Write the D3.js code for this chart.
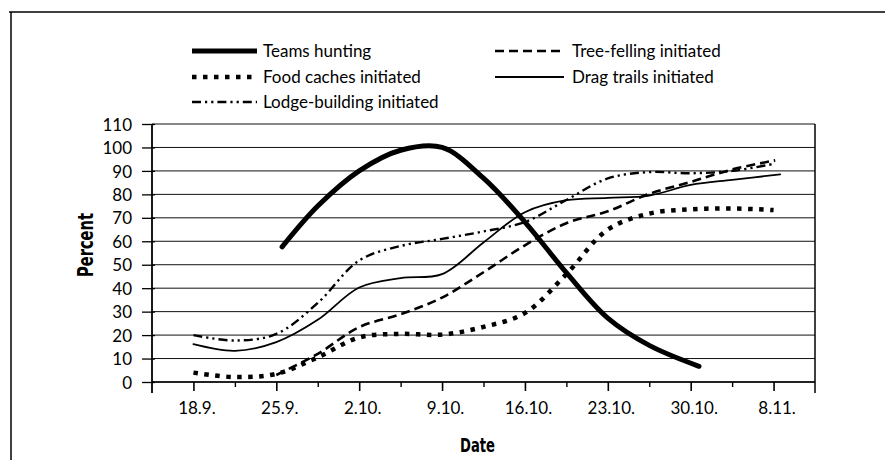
<!DOCTYPE html>
<html>
<head>
<meta charset="utf-8">
<script src="https://cdn.jsdelivr.net/npm/d3@7"></script>
<style>
  html, body { margin: 0; padding: 0; background: #fff; }
  svg { display: block; }
  .tick-label { font-family: Lato, "Open Sans", sans-serif; font-size: 17px; fill: #000; }
  .legend-label { font-family: Lato, "Open Sans", sans-serif; font-size: 17px; fill: #000; }
  .axis-title { font-family: "Liberation Sans Narrow", "DejaVu Sans Condensed", sans-serif; font-weight: bold; font-size: 22px; fill: #000; }
</style>
</head>
<body>
<svg id="chart" width="885" height="460"></svg>
<script>
// ---------- DATA ----------
const dateLabels = ["18.9.", "25.9.", "2.10.", "9.10.", "16.10.", "23.10.", "30.10.", "8.11."];
const yTicks = [0, 10, 20, 30, 40, 50, 60, 70, 80, 90, 100, 110];

// x positions in weeks after 18.9. (0 = 18.9., 1 = 25.9., ...)
const huntWeeks = [1.07, 1.5, 2, 2.5, 3, 3.5, 4, 4.5, 5, 5.5, 6.1];
const huntValues = [57.6, 75, 90, 98.8, 100, 86.9, 68.2, 46.6, 27.2, 15.6, 6.7];

const foodWeeks = [0, 0.5, 1, 1.5, 2, 2.5, 3, 3.5, 4, 4.5, 5, 5.5, 6, 6.5, 7];
const foodValues = [4, 2.1, 3.5, 10.5, 19, 20.5, 20.2, 23.5, 29.4, 46, 65, 71.8, 73.6, 74, 73.3];

const lodgeWeeks = [0, 0.5, 1, 1.5, 2, 2.5, 3, 3.5, 4, 4.5, 5, 5.5, 6, 6.5, 7];
const lodgeValues = [20, 17.7, 20.5, 33.7, 51.8, 58, 61, 64.2, 68.2, 77.6, 86.8, 89.5, 89, 90, 93];

const treeWeeks = [1, 1.5, 2, 2.5, 3, 3.5, 4, 4.5, 5, 5.5, 6, 6.5, 7.02];
const treeValues = [3, 12, 23.4, 28.9, 36, 46.8, 58.3, 67.7, 72.8, 80.2, 85.3, 90.6, 94.5];

const dragWeeks = [0, 0.5, 1, 1.5, 2, 2.5, 3, 3.5, 4, 4.5, 5, 5.5, 6, 6.5, 7.08];
const dragValues = [16.1, 13.3, 17, 26.5, 40.3, 44.3, 46, 59.5, 72.4, 77.5, 78.5, 79.5, 84, 86.2, 88.5];

const seriesNames = ["Teams hunting", "Food caches initiated", "Lodge-building initiated", "Tree-felling initiated", "Drag trails initiated"];

// ---------- STYLES ----------
const styles = {
  "Teams hunting": { width: 5, dash: null, cap: "round" },
  "Food caches initiated": { width: 4.5, dash: "4.5,6.5", cap: "butt" },
  "Lodge-building initiated": { width: 2.4, dash: "9,4,2.2,4,2.2,4", cap: "butt" },
  "Tree-felling initiated": { width: 2.6, dash: "9,5", cap: "butt" },
  "Drag trails initiated": { width: 1.8, dash: null, cap: "round" }
};

const series = [
  { name: seriesNames[0], xs: huntWeeks, ys: huntValues },
  { name: seriesNames[1], xs: foodWeeks, ys: foodValues },
  { name: seriesNames[2], xs: lodgeWeeks, ys: lodgeValues },
  { name: seriesNames[3], xs: treeWeeks, ys: treeValues },
  { name: seriesNames[4], xs: dragWeeks, ys: dragValues }
];

// ---------- LAYOUT ----------
const svg = d3.select("#chart");
const plot = { left: 152, right: 815, top: 124, bottom: 382 };

const x = d3.scaleLinear().domain([-0.5, 7.5]).range([plot.left, plot.right]);
const y = d3.scaleLinear().domain([0, 110]).range([plot.bottom, plot.top]);

// outer frame
svg.append("line").attr("x1", 9).attr("x2", 885).attr("y1", 12).attr("y2", 12)
  .attr("stroke", "#000").attr("stroke-width", 1.5);
svg.append("line").attr("x1", 11).attr("x2", 11).attr("y1", 12).attr("y2", 460)
  .attr("stroke", "#000").attr("stroke-width", 1.5);

// gridlines
svg.append("g").selectAll("line").data(yTicks).join("line")
  .attr("x1", plot.left).attr("x2", plot.right)
  .attr("y1", d => y(d)).attr("y2", d => y(d))
  .attr("stroke", "#111").attr("stroke-width", 1);

// right border of plot
svg.append("line").attr("x1", plot.right).attr("x2", plot.right)
  .attr("y1", y(110)).attr("y2", y(0) + 11)
  .attr("stroke", "#000").attr("stroke-width", 1.5);

// y axis
const yAxis = d3.axisLeft(y).tickValues(yTicks).tickSize(9).tickPadding(4);
const gy = svg.append("g").attr("transform", `translate(${plot.left},0)`).call(yAxis);
gy.select(".domain").remove();
gy.selectAll(".tick line").attr("stroke", "#000").attr("stroke-width", 1.3).attr("x2", -10).attr("x1", 3);
gy.selectAll(".tick text").attr("class", "tick-label").attr("x", -20).attr("dy", "0.36em");
svg.append("line").attr("x1", plot.left).attr("x2", plot.left)
  .attr("y1", y(110)).attr("y2", y(0) + 11).attr("stroke", "#000").attr("stroke-width", 1.8);

// x axis
const majorTicks = d3.range(0, 8);
const minorTicks = d3.range(0.5, 7, 1);
const xAxis = d3.axisBottom(x).tickValues(majorTicks).tickFormat(i => dateLabels[i]).tickSize(9).tickPadding(11);
const gx = svg.append("g").attr("transform", `translate(0,${plot.bottom})`).call(xAxis);
gx.select(".domain").remove();
gx.selectAll(".tick line").attr("stroke", "#000").attr("stroke-width", 1.6);
gx.selectAll(".tick text").attr("class", "tick-label").attr("dx", 3);
const xMinor = d3.axisBottom(x).tickValues(minorTicks).tickSize(5).tickFormat("");
const gxm = svg.append("g").attr("transform", `translate(0,${plot.bottom})`).call(xMinor);
gxm.select(".domain").remove();
gxm.selectAll(".tick line").attr("stroke", "#000").attr("stroke-width", 1.4);
svg.append("line").attr("x1", plot.left).attr("x2", plot.right)
  .attr("y1", y(0)).attr("y2", y(0)).attr("stroke", "#000").attr("stroke-width", 1.6);

// axis titles
svg.append("text").attr("class", "axis-title")
  .attr("transform", "translate(93,245) rotate(-90)")
  .attr("text-anchor", "middle")
  .attr("textLength", 64).attr("lengthAdjust", "spacingAndGlyphs")
  .text("Percent");
svg.append("text").attr("class", "axis-title")
  .attr("x", (plot.left + plot.right) / 2 - 6).attr("y", 452)
  .attr("text-anchor", "middle")
  .style("font-size", "20px")
  .attr("textLength", 35).attr("lengthAdjust", "spacingAndGlyphs")
  .text("Date");

// lines
const line = d3.line()
  .x(d => x(d[0])).y(d => y(d[1]))
  .curve(d3.curveCatmullRom.alpha(0.5));

svg.append("g").selectAll("path").data(series).join("path")
  .attr("d", s => line(s.xs.map((v, i) => [v, s.ys[i]])))
  .attr("fill", "none")
  .attr("stroke", "#000")
  .attr("stroke-width", s => styles[s.name].width)
  .attr("stroke-dasharray", s => styles[s.name].dash)
  .attr("stroke-linecap", s => styles[s.name].cap)
  .attr("stroke-linejoin", "round");

// legend
const legendItems = [
  { name: seriesNames[0], sx: 192, ex: 257, tx: 263, ty: 51 },
  { name: seriesNames[1], sx: 192, ex: 257, tx: 263, ty: 77 },
  { name: seriesNames[2], sx: 192, ex: 257, tx: 263, ty: 102 },
  { name: seriesNames[3], sx: 495, ex: 564, tx: 572, ty: 51 },
  { name: seriesNames[4], sx: 495, ex: 564, tx: 572, ty: 77 }
];
const lg = svg.append("g");
lg.selectAll("line").data(legendItems).join("line")
  .attr("x1", d => d.sx).attr("x2", d => d.ex)
  .attr("y1", d => d.ty).attr("y2", d => d.ty)
  .attr("stroke", "#000")
  .attr("stroke-width", d => styles[d.name].width)
  .attr("stroke-dasharray", d => styles[d.name].dash)
  .attr("stroke-linecap", "butt");
lg.selectAll("text").data(legendItems).join("text")
  .attr("class", "legend-label")
  .attr("x", d => d.tx).attr("y", d => d.ty).attr("dy", "0.35em")
  .text(d => d.name);
</script>
</body>
</html>
